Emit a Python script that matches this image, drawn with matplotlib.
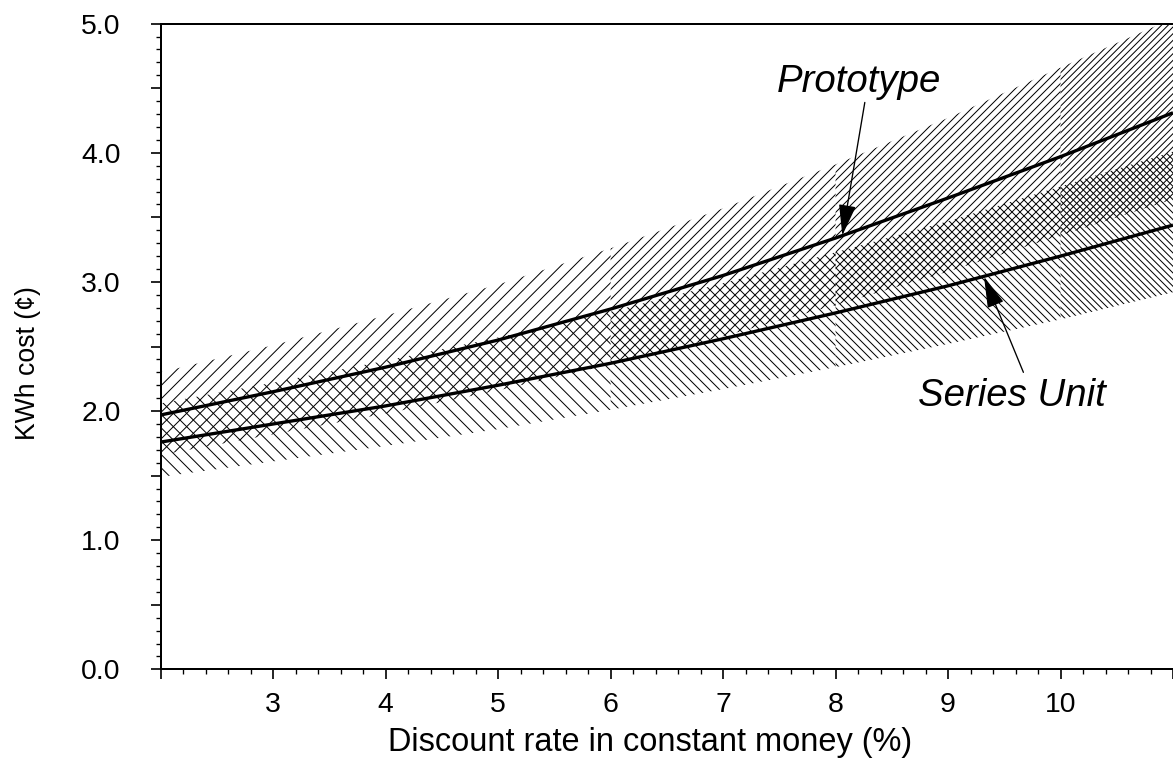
import matplotlib
matplotlib.use("Agg")
import matplotlib.pyplot as plt
from matplotlib.ticker import MultipleLocator, FuncFormatter
import numpy as np

plt.rcParams['font.family'] = ['Liberation Sans', 'DejaVu Sans']
plt.rcParams['hatch.linewidth'] = 0.6
plt.rcParams['hatch.color'] = 'black'

# discount rate (%)
rate = np.array([2, 3, 4, 5, 6, 7, 8, 9, 10, 11])

# kWh cost (cents), central estimates
proto = np.array([1.97, 2.15, 2.34, 2.55, 2.79, 3.05, 3.34, 3.65, 3.97, 4.31])
series = np.array([1.76, 1.90, 2.04, 2.20, 2.37, 2.56, 2.76, 2.97, 3.20, 3.44])

# uncertainty bands
proto_hi = np.array([2.30, 2.51, 2.74, 2.98, 3.26, 3.57, 3.91, 4.27, 4.66, 5.04])
proto_lo = np.array([1.66, 1.82, 1.98, 2.16, 2.36, 2.58, 2.82, 3.08, 3.36, 3.64])
series_hi = np.array([2.06, 2.22, 2.39, 2.57, 2.77, 2.99, 3.23, 3.47, 3.74, 4.01])
series_lo = np.array([1.49, 1.61, 1.73, 1.86, 2.01, 2.17, 2.34, 2.52, 2.71, 2.92])

xtick_vals = [2, 3, 4, 5, 6, 7, 8, 9, 10, 11]
xtick_labels = ['', '3', '4', '5', '6', '7', '8', '9', '10', '']

dpi = 120
fig = plt.figure(figsize=(1173 / dpi, 766 / dpi), dpi=dpi)
ax = fig.add_axes([0.137, 0.1262, 0.863, 0.8429])

# hatching gets denser towards the right in the original -> split in pieces
segments = [(2, 6, 3), (6, 8, 4), (8, 10, 5), (10, 11, 6)]
for a, b, n in segments:
    m = (rate >= a) & (rate <= b)
    ax.fill_between(rate, proto_lo, proto_hi, where=m, facecolor='none',
                    edgecolor='black', hatch='/' * n, linewidth=0)
    ax.fill_between(rate, series_lo, series_hi, where=m, facecolor='none',
                    edgecolor='black', hatch='\\' * n, linewidth=0)

ax.plot(rate, proto, color='black', lw=2.0, solid_capstyle='butt')
ax.plot(rate, series, color='black', lw=2.0, solid_capstyle='butt')

arrow = dict(arrowstyle='-|>,head_length=0.9,head_width=0.25',
             color='black', lw=0.8, mutation_scale=18, shrinkA=0, shrinkB=0)
ax.annotate('', xy=(8.06, 3.36), xytext=(8.26, 4.39), arrowprops=arrow)
ax.annotate('', xy=(9.32, 3.04), xytext=(9.67, 2.30), arrowprops=arrow)
ax.text(8.21, 4.55, 'Prototype', style='italic', fontsize=23,
        ha='center', va='center')
ax.text(9.57, 2.12, 'Series Unit', style='italic', fontsize=23,
        ha='center', va='center')

ax.set_xlim(2, 11)
ax.set_ylim(0, 5)
ax.set_xticks(xtick_vals)
ax.set_xticklabels(xtick_labels)
ax.xaxis.set_minor_locator(MultipleLocator(0.2))
ax.yaxis.set_major_locator(MultipleLocator(0.5))
ax.yaxis.set_minor_locator(MultipleLocator(0.1))
ax.yaxis.set_major_formatter(FuncFormatter(
    lambda v, p: '%.1f' % v if abs(v - round(v)) < 1e-6 else ''))

ax.tick_params(which='major', direction='out', length=6, width=1.0,
               labelsize=17)
ax.tick_params(axis='x', which='major', pad=7.5)
ax.tick_params(axis='y', which='major', pad=18)
ax.tick_params(which='minor', direction='out', length=3, width=0.8)
ax.tick_params(top=False, right=False)
ax.spines['right'].set_visible(False)
for s in ['left', 'bottom', 'top']:
    ax.spines[s].set_linewidth(1.2)

ax.set_xlabel('Discount rate in constant money (%)', fontsize=19.5)
ax.xaxis.set_label_coords(0.483, -0.09)
ax.set_ylabel('KWh cost (¢)', fontsize=16)
ax.yaxis.set_label_coords(-0.118, 0.474)

fig.savefig('out.png', dpi=dpi)
